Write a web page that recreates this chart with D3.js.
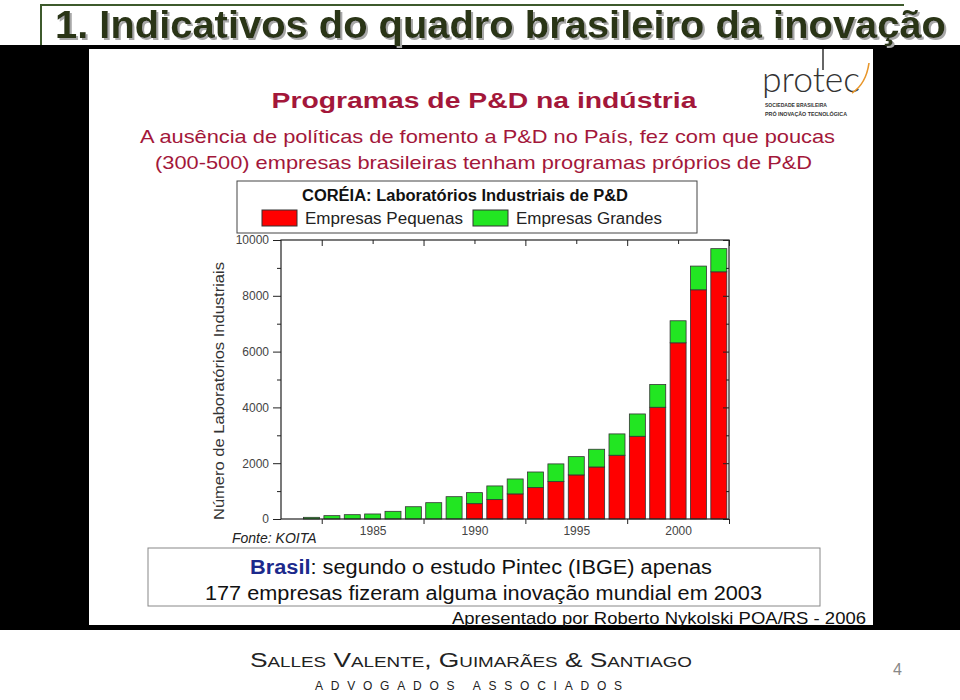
<!DOCTYPE html>
<html><head><meta charset="utf-8">
<script src="https://cdn.jsdelivr.net/npm/d3@7/dist/d3.min.js"></script>
<style>
html,body{margin:0;padding:0;background:#fff;}
svg{display:block;}
</style></head>
<body>
<script>
// ---- data ----
const years = [1982,1983,1984,1985,1986,1987,1988,1989,1990,1991,1992,1993,1994,1995,1996,1997,1998,1999,2000,2001,2002];
const pequenas = [0,0,0,0,0,0,0,0,550,695,900,1125,1340,1580,1865,2285,2965,4005,6315,8215,8860];
const grandes  = [60,120,155,180,275,440,585,800,395,490,535,560,635,655,635,765,800,815,790,850,830];
const yTicks = [0,2000,4000,6000,8000,10000];
const xLabels = [1985,1990,1995,2000];
const seriesNames = ["Empresas Pequenas","Empresas Grandes"];
const seriesColors = ["#ff0000","#22e622"];

const W = 960, H = 700;
const svg = d3.select("body").append("svg").attr("width",W).attr("height",H);
const sans = "'Liberation Sans', Arial, sans-serif";
const narrow = "'Liberation Sans Narrow', 'Liberation Sans', Arial, sans-serif";

const defs = svg.append("defs");
const f = defs.append("filter").attr("id","shadow").attr("x","-5%").attr("y","-20%").attr("width","110%").attr("height","150%");
f.append("feDropShadow").attr("dx",2).attr("dy",2).attr("stdDeviation",0.6).attr("flood-color","#a8a8a8").attr("flood-opacity",1);

// white page
svg.append("rect").attr("x",0).attr("y",0).attr("width",W).attr("height",H).attr("fill","#fff");

// black band with white picture
svg.append("rect").attr("x",0).attr("y",45).attr("width",W).attr("height",585).attr("fill","#000");
svg.append("rect").attr("x",89).attr("y",49).attr("width",784).attr("height",576).attr("fill","#fff");

// title frame
svg.append("path").attr("d","M41,45 L41,5 L904,5").attr("fill","none").attr("stroke","#3d5a2c").attr("stroke-width",2);
// title with shadow
const titleTxt = "1. Indicativos do quadro brasileiro da inovação";
svg.append("text").attr("x",55).attr("y",38).attr("font-family",narrow).attr("font-weight","bold")
  .attr("font-size",38).attr("fill","#2a3418").attr("filter","url(#shadow)")
  .attr("textLength",891).attr("lengthAdjust","spacingAndGlyphs").text(titleTxt);

// headings
const maroon = "#a3173a";
svg.append("text").attr("x",484).attr("y",108).attr("text-anchor","middle").attr("font-family",sans)
  .attr("font-weight","bold").attr("font-size",22).attr("fill",maroon).attr("textLength",425).attr("lengthAdjust","spacingAndGlyphs")
  .text("Programas de P&D na indústria");
svg.append("text").attr("x",140).attr("y",143).attr("font-family",sans).attr("font-size",18.5).attr("fill",maroon)
  .attr("textLength",695).attr("lengthAdjust","spacingAndGlyphs")
  .text("A ausência de políticas de fomento a P&D no País, fez com que poucas");
svg.append("text").attr("x",155).attr("y",169).attr("font-family",sans).attr("font-size",18.5).attr("fill",maroon)
  .attr("textLength",657).attr("lengthAdjust","spacingAndGlyphs")
  .text("(300-500) empresas brasileiras tenham programas próprios de P&D");

// protec logo
const logo = svg.append("g");
logo.append("text").attr("x",762).attr("y",92).attr("font-family","Lato, 'Open Sans', sans-serif").attr("font-weight",300)
  .attr("font-size",36).attr("fill","#333").attr("textLength",98).attr("lengthAdjust","spacingAndGlyphs").text("protec");
logo.append("line").attr("x1",823).attr("y1",49).attr("x2",823).attr("y2",70).attr("stroke","#333").attr("stroke-width",1.5);
logo.append("path").attr("d","M852,93 Q866,84 869,63").attr("fill","none").attr("stroke","#e8962a").attr("stroke-width",1.6);
logo.append("text").attr("x",765).attr("y",107).attr("font-family",sans).attr("font-weight","bold").attr("font-size",6)
  .attr("fill","#333").attr("textLength",62).attr("lengthAdjust","spacingAndGlyphs").text("SOCIEDADE BRASILEIRA");
logo.append("text").attr("x",765).attr("y",116).attr("font-family",sans).attr("font-weight","bold").attr("font-size",6)
  .attr("fill","#333").attr("textLength",82).attr("lengthAdjust","spacingAndGlyphs").text("PRÓ INOVAÇÃO TECNOLÓGICA");

// legend box
svg.append("rect").attr("x",237).attr("y",181).attr("width",460).attr("height",52).attr("fill","#fff").attr("stroke","#444").attr("stroke-width",1);
svg.append("text").attr("x",465).attr("y",201).attr("text-anchor","middle").attr("font-family",sans).attr("font-weight","bold")
  .attr("font-size",16).attr("fill","#111").attr("textLength",326).attr("lengthAdjust","spacingAndGlyphs")
  .text("CORÉIA: Laboratórios Industriais de P&D");
const legX = [262, 473], legTX = [305, 516], legTL = [158, 146];
seriesNames.forEach((n,i)=>{
  svg.append("rect").attr("x",legX[i]).attr("y",210).attr("width",35).attr("height",16).attr("fill",seriesColors[i]).attr("stroke","#333");
  svg.append("text").attr("x",legTX[i]).attr("y",224).attr("font-family",sans).attr("font-size",16).attr("fill","#222")
    .attr("textLength",legTL[i]).attr("lengthAdjust","spacingAndGlyphs").text(n);
});

// chart
const x = d3.scaleLinear().domain([1980.5,2002.5]).range([281,729]);
const y = d3.scaleLinear().domain([0,10000]).range([519,240]);
const bw = 16;
const stackData = years.map((yr,i)=>({year:yr, pequenas:pequenas[i], grandes:grandes[i]}));
const stack = d3.stack().keys(["pequenas","grandes"])(stackData);
const g = svg.append("g");
stack.forEach((layer,li)=>{
  g.selectAll(null).data(layer.filter(d=>d[1]-d[0]>0)).enter().append("rect")
    .attr("x",d=>x(d.data.year)-bw/2).attr("width",bw)
    .attr("y",d=>y(d[1])).attr("height",d=>y(d[0])-y(d[1]))
    .attr("fill",seriesColors[li]).attr("stroke","#333").attr("stroke-width",0.8);
});

const axisColor = "#222";
// frame
svg.append("rect").attr("x",281).attr("y",240).attr("width",448).attr("height",279).attr("fill","none").attr("stroke",axisColor).attr("stroke-width",1.2);
// left axis
const ax = svg.append("g").attr("transform","translate(281,0)")
  .call(d3.axisLeft(y).tickValues(yTicks).tickSize(8).tickFormat(d3.format("d")));
ax.select(".domain").remove();
ax.selectAll("text").attr("font-family",sans).attr("font-size",12).attr("fill","#444").attr("x",-12);
ax.selectAll("line").attr("stroke",axisColor);
// minor ticks left
svg.append("g").attr("transform","translate(281,0)").call(d3.axisLeft(y).tickValues([1000,3000,5000,7000,9000]).tickSize(4).tickFormat(""))
  .call(s=>{s.select(".domain").remove(); s.selectAll("line").attr("stroke",axisColor);});
// right axis inward
svg.append("g").attr("transform","translate(729,0)").call(d3.axisLeft(y).tickValues(yTicks).tickSize(6).tickFormat(""))
  .call(s=>{s.select(".domain").remove(); s.selectAll("line").attr("stroke",axisColor);});
svg.append("g").attr("transform","translate(729,0)").call(d3.axisLeft(y).tickValues([1000,3000,5000,7000,9000]).tickSize(3).tickFormat(""))
  .call(s=>{s.select(".domain").remove(); s.selectAll("line").attr("stroke",axisColor);});
// bottom axis
const majorX = [1982.5,1987.5,1992.5,1997.5,2002.5];
const minorX = [1985,1990,1995,2000];
svg.append("g").attr("transform","translate(0,519)").call(d3.axisBottom(x).tickValues(majorX).tickSize(5).tickFormat(""))
  .call(s=>{s.select(".domain").remove(); s.selectAll("line").attr("stroke",axisColor);});
const bx = svg.append("g").attr("transform","translate(0,519)").call(d3.axisBottom(x).tickValues(xLabels).tickSize(0).tickPadding(7).tickFormat(d3.format("d")));
bx.select(".domain").remove();
bx.selectAll("text").attr("font-family",sans).attr("font-size",12).attr("fill","#444");
// top axis inward
svg.append("g").attr("transform","translate(0,240)").call(d3.axisBottom(x).tickValues(majorX).tickSize(6).tickFormat(""))
  .call(s=>{s.select(".domain").remove(); s.selectAll("line").attr("stroke",axisColor);});
svg.append("g").attr("transform","translate(0,240)").call(d3.axisBottom(x).tickValues(minorX).tickSize(4).tickFormat(""))
  .call(s=>{s.select(".domain").remove(); s.selectAll("line").attr("stroke",axisColor);});

// y label
svg.append("text").attr("transform","translate(224,391) rotate(-90)").attr("text-anchor","middle")
  .attr("font-family",sans).attr("font-size",15).attr("fill","#333").attr("textLength",258).attr("lengthAdjust","spacingAndGlyphs")
  .text("Número de Laboratórios Industriais");
// source
svg.append("text").attr("x",232).attr("y",543).attr("font-family",sans).attr("font-style","italic").attr("font-size",14)
  .attr("fill","#222").text("Fonte: KOITA");

// bottom box
svg.append("rect").attr("x",148).attr("y",548).attr("width",672).attr("height",58).attr("fill","#fff").attr("stroke","#888").attr("stroke-width",1);
const t1 = svg.append("text").attr("x",250).attr("y",574).attr("font-family",sans).attr("font-size",20).attr("fill","#111")
  .attr("textLength",462).attr("lengthAdjust","spacingAndGlyphs");
t1.append("tspan").attr("font-weight","bold").attr("fill","#1c2a8c").text("Brasil");
t1.append("tspan").text(": segundo o estudo Pintec (IBGE) apenas");
svg.append("text").attr("x",205).attr("y",600).attr("font-family",sans).attr("font-size",20).attr("fill","#111")
  .attr("textLength",557).attr("lengthAdjust","spacingAndGlyphs").text("177 empresas fizeram alguma inovação mundial em 2003");
svg.append("text").attr("x",452).attr("y",624).attr("font-family",narrow).attr("font-size",17).attr("fill","#111")
  .attr("textLength",414).attr("lengthAdjust","spacingAndGlyphs").text("Apresentado por Roberto Nykolski POA/RS - 2006");

// footer
svg.append("text").attr("x",250).attr("y",667).attr("font-family",sans).attr("font-size",21).attr("font-variant","small-caps")
  .attr("fill","#222").attr("textLength",442).attr("lengthAdjust","spacingAndGlyphs").text("Salles Valente, Guimarães & Santiago");
svg.append("text").attr("x",315).attr("y",690).attr("font-family",sans).attr("font-size",12).attr("fill","#222")
  .attr("textLength",307).attr("lengthAdjust","spacing").text("ADVOGADOS  ASSOCIADOS");
svg.append("text").attr("x",893).attr("y",675).attr("font-family",sans).attr("font-size",16).attr("fill","#888").text("4");
</script>
</body></html>
